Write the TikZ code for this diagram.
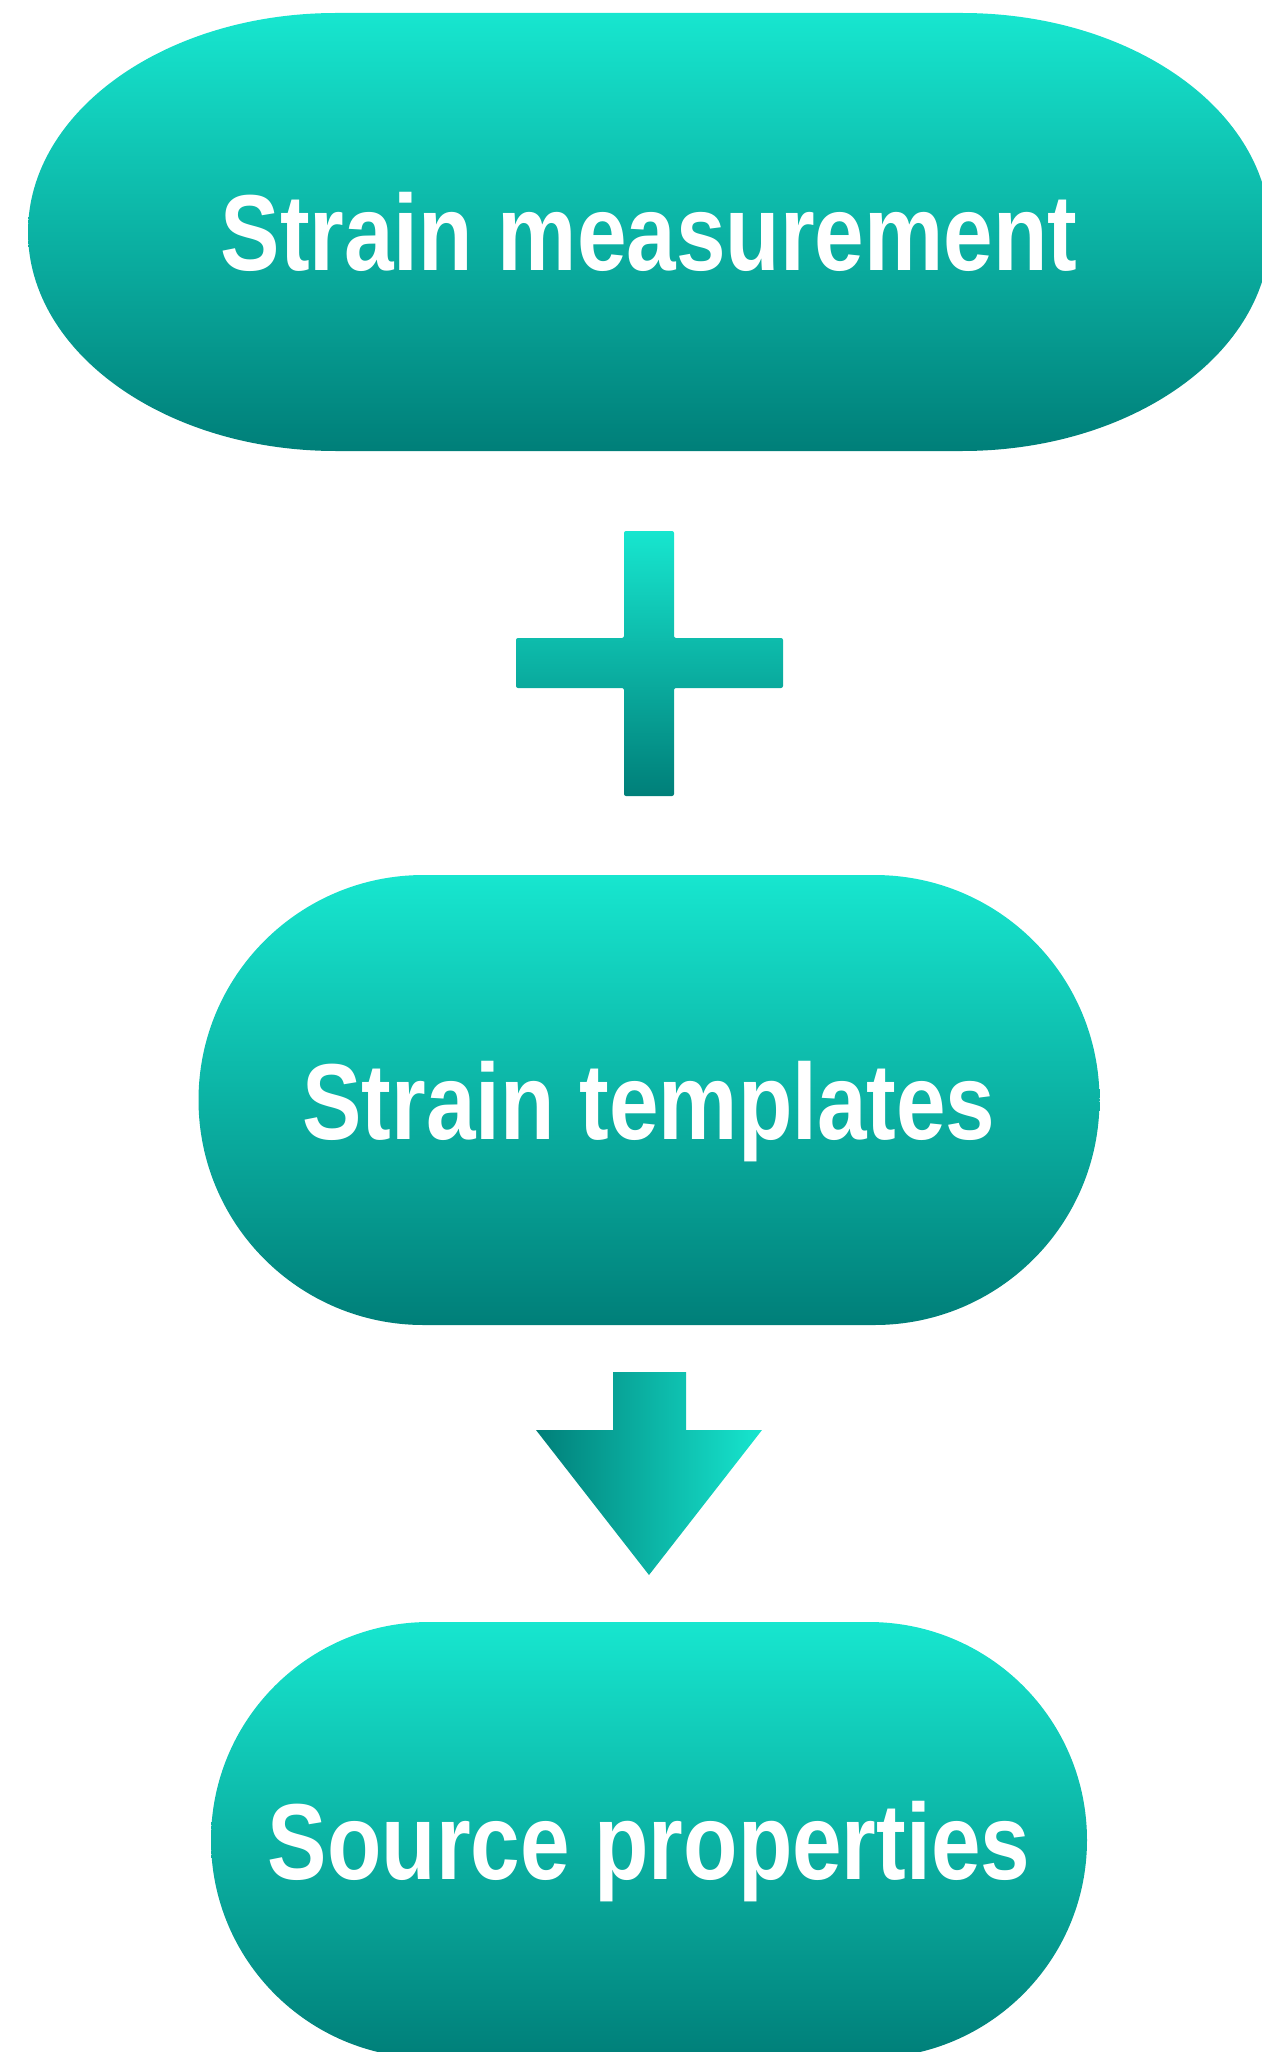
\documentclass[tikz,border=0pt]{standalone}
\usepackage{fontspec}
\setmainfont{Liberation Sans}[FakeStretch=0.825]
\usetikzlibrary{shapes.misc}
\definecolor{tealtop}{RGB}{23,230,207}
\definecolor{tealbot}{RGB}{0,127,121}
\tikzset{
  pilltext/.style={text=white, inner sep=0pt, text height=78pt, text depth=0pt,
    font=\bfseries\fontsize{108}{108}\selectfont},
  pill/.style={pilltext, rounded rectangle, top color=tealtop, bottom color=tealbot},
  vshade/.style={top color=tealtop, bottom color=tealbot},
  hshade/.style={left color=tealbot, right color=tealtop}
}
\begin{document}
\begin{tikzpicture}[x=1pt,y=-1pt]
        \useasboundingbox (0,0) rectangle (1261,2052);

        \path[vshade] (336,13) -- (962,13)
              arc[start angle=90, end angle=-90, x radius=308pt, y radius=219pt]
              -- (336,451)
              arc[start angle=270, end angle=90, x radius=308pt, y radius=219pt] -- cycle;
        \node[pilltext]  (meas)  at (649,232)  {Strain measurement};

        \path[vshade, rounded corners=2pt]
              (624,531) -- (674,531) -- (674,638) -- (783,638) -- (783,688) -- (674,688)
              -- (674,796) -- (624,796) -- (624,688) -- (516,688) -- (516,638) -- (624,638) -- cycle;

        \node[pill, minimum width=901pt, minimum height=450pt]  (tmpl) at (649,1100) {Strain templates};

        \path[hshade]
              (613,1372) -- (686,1372) -- (686,1430) -- (762,1430) -- (649,1575)
              -- (536,1430) -- (613,1430) -- cycle;

        \node[pill, minimum width=876pt, minimum height=436pt]  (src)  at (649,1840) {Source properties};
\end{tikzpicture}
\end{document}
